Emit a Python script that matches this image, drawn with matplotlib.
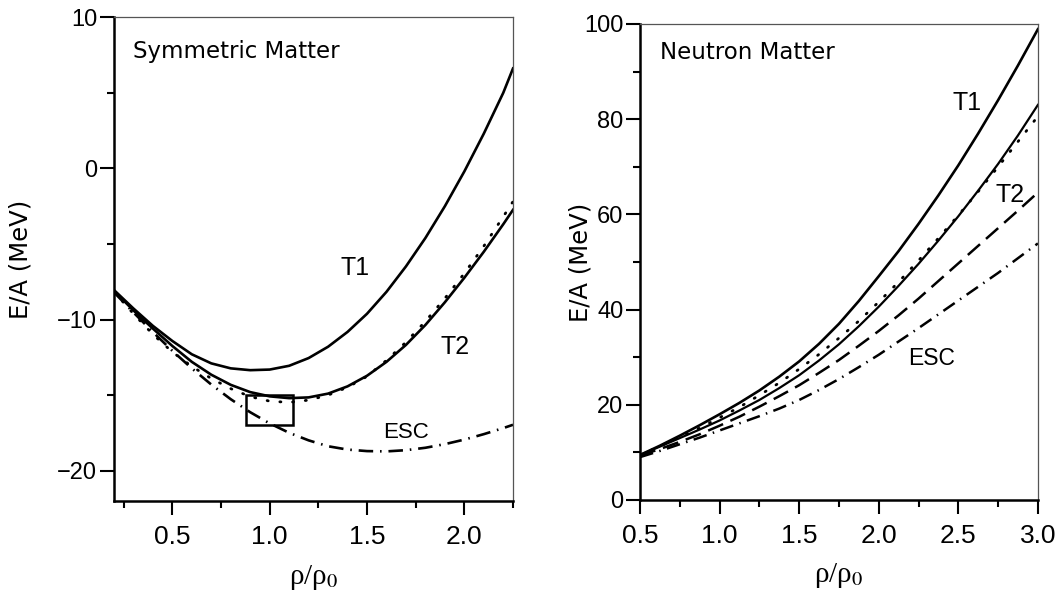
"""E/A versus density for symmetric and neutron matter (two panels)."""

import matplotlib
matplotlib.use("Agg")
import matplotlib.pyplot as plt
from matplotlib.patches import Rectangle
from matplotlib.ticker import MultipleLocator

plt.rcParams["font.family"] = ["Liberation Sans", "DejaVu Sans"]
plt.rcParams["mathtext.fontset"] = "stix"

# ---- symmetric matter (left panel) ----
rho_sym = [0.2, 0.3, 0.4, 0.5, 0.6, 0.7, 0.8, 0.9, 1.0, 1.1, 1.2, 1.3,
           1.4, 1.5, 1.6, 1.7, 1.8, 1.9, 2.0, 2.1, 2.2, 2.25]
sym_t1 = [-8.05, -9.27, -10.42, -11.42, -12.3, -12.9, -13.23, -13.35, -13.31,
          -13.06, -12.55, -11.8, -10.82, -9.62, -8.17, -6.49, -4.61, -2.51,
          -0.21, 2.29, 4.99, 6.6]
sym_t2 = [-8.1, -9.4, -10.6, -11.75, -12.8, -13.65, -14.32, -14.8, -15.08,
          -15.2, -15.15, -14.9, -14.42, -13.72, -12.8, -11.68, -10.36, -8.86,
          -7.24, -5.52, -3.7, -2.75]
sym_dot = [-8.15, -9.62, -10.98, -12.15, -13.1, -13.9, -14.57, -15.1, -15.4,
           -15.48, -15.33, -15.0, -14.48, -13.76, -12.7, -11.5, -10.12, -8.6,
           -6.95, -5.15, -3.2, -2.2]
sym_esc = [-8.2, -9.53, -10.83, -12.07, -13.23, -14.3, -15.27, -16.13, -16.87,
           -17.49, -17.99, -18.38, -18.6, -18.7, -18.72, -18.64, -18.48, -18.24,
           -17.94, -17.58, -17.18, -16.96]
# empirical saturation box: (rho_min, rho_max, E_min, E_max)
sat_box = (0.88, 1.12, -17.0, -15.0)

# ---- neutron matter (right panel) ----
rho_neu = [0.5, 0.625, 0.75, 0.875, 1.0, 1.125, 1.25, 1.375, 1.5, 1.625,
           1.75, 1.875, 2.0, 2.125, 2.25, 2.375, 2.5, 2.625, 2.75, 2.875, 3.0]
neu_t1 = [9.45, 11.4, 13.5, 15.7, 18.0, 20.4, 23.0, 25.9, 29.1, 32.8, 37.0,
          41.8, 47.0, 52.3, 58.0, 64.0, 70.3, 77.0, 84.0, 91.3, 98.9]
neu_t2 = [9.45, 11.2, 13.0, 14.8, 16.7, 18.8, 21.0, 23.5, 26.2, 29.3, 32.7,
          36.5, 40.6, 45.0, 49.6, 54.5, 59.6, 65.0, 70.6, 76.6, 83.0]
neu_dot = [9.4, 11.3, 13.2, 15.1, 17.3, 19.5, 22.0, 24.6, 27.5, 30.6, 34.0,
           37.6, 41.6, 45.8, 50.3, 55.0, 59.8, 64.8, 70.0, 75.3, 80.6]
neu_dash = [9.3, 10.7, 12.2, 13.8, 15.6, 17.5, 19.6, 21.8, 24.1, 26.7, 29.4,
            32.4, 35.5, 38.8, 42.3, 46.0, 49.7, 53.4, 57.1, 60.8, 64.6]
neu_esc = [9.0, 10.3, 11.7, 13.1, 14.6, 16.1, 17.6, 19.2, 21.0, 23.1, 25.4,
           27.9, 30.5, 33.3, 36.1, 39.0, 41.9, 44.8, 47.7, 50.8, 53.9]

DOTTED = (0, (0.4, 4.2))
DASHED = (0, (6.5, 3.2))
DASHDOT = (0, (5.5, 2.6, 0.6, 2.6))
TEXT_FONT = ["DejaVu Sans"]
RHO_FONT = ["Liberation Serif", "DejaVu Serif"]


def style_axes(ax, label_x):
    for side in ("left", "bottom"):
        ax.spines[side].set_linewidth(1.8)
    for side in ("top", "right"):
        ax.spines[side].set_linewidth(0.9)
        ax.spines[side].set_color("#555555")
    ax.tick_params(which="both", direction="out", top=False, right=False,
                   width=1.5)
    ax.tick_params(which="major", length=10)
    ax.tick_params(which="minor", length=5)
    ax.tick_params(axis="x", which="major", pad=7, labelsize=19)
    ax.tick_params(axis="y", which="major", pad=2, labelsize=17)
    ax.set_xlabel("ρ/ρ$_0$", fontsize=21, family=RHO_FONT, labelpad=10)
    ax.set_ylabel("E/A (MeV)", fontsize=17.5, family=TEXT_FONT)
    ax.yaxis.set_label_coords(label_x, 0.5)


fig = plt.figure(figsize=(10.63, 5.99), dpi=100)

# left panel
ax1 = fig.add_axes([0.1072, 0.1636, 0.3754, 0.808])
ax1.plot(rho_sym, sym_t1, color="black", lw=1.9)
ax1.plot(rho_sym, sym_t2, color="black", lw=1.9)
ax1.plot(rho_sym, sym_dot, color="black", lw=2.0, linestyle=DOTTED,
         dash_capstyle="round")
ax1.plot(rho_sym, sym_esc, color="black", lw=1.9, linestyle=DASHDOT)
x0, x1, y0, y1 = sat_box
ax1.add_patch(Rectangle((x0, y0), x1 - x0, y1 - y0, fill=False,
                        edgecolor="black", lw=1.8))
ax1.set_xlim(0.2, 2.25)
ax1.set_ylim(-22, 10)
ax1.xaxis.set_major_locator(MultipleLocator(0.5))
ax1.xaxis.set_minor_locator(MultipleLocator(0.25))
ax1.yaxis.set_major_locator(MultipleLocator(10))
ax1.yaxis.set_minor_locator(MultipleLocator(5))
style_axes(ax1, -0.205)
ax1.text(0.048, 0.928, "Symmetric Matter", transform=ax1.transAxes,
         fontsize=16.5, family=TEXT_FONT, va="center")
ax1.text(1.44, -6.6, "T1", fontsize=18, ha="center", va="center")
ax1.text(1.95, -11.85, "T2", fontsize=18, ha="center", va="center")
ax1.text(1.70, -17.5, "ESC", fontsize=16, ha="center", va="center")

# right panel
ax2 = fig.add_axes([0.602, 0.1653, 0.3744, 0.7947])
ax2.plot(rho_neu, neu_t1, color="black", lw=1.9)
ax2.plot(rho_neu, neu_t2, color="black", lw=1.6)
ax2.plot(rho_neu, neu_dot, color="black", lw=2.0, linestyle=DOTTED,
         dash_capstyle="round")
ax2.plot(rho_neu, neu_dash, color="black", lw=1.8, linestyle=DASHED)
ax2.plot(rho_neu, neu_esc, color="black", lw=1.8, linestyle=DASHDOT)
ax2.set_xlim(0.5, 3.0)
ax2.set_ylim(0, 100)
ax2.xaxis.set_major_locator(MultipleLocator(0.5))
ax2.xaxis.set_minor_locator(MultipleLocator(0.25))
ax2.yaxis.set_major_locator(MultipleLocator(20))
ax2.yaxis.set_minor_locator(MultipleLocator(10))
style_axes(ax2, -0.118)
ax2.text(0.05, 0.941, "Neutron Matter", transform=ax2.transAxes,
         fontsize=16.5, family=TEXT_FONT, va="center")
ax2.text(2.555, 83.4, "T1", fontsize=18, ha="center", va="center")
ax2.text(2.826, 64.1, "T2", fontsize=18, ha="center", va="center")
ax2.text(2.335, 29.8, "ESC", fontsize=16.5, ha="center", va="center")

fig.savefig("out.png", dpi=100)
plt.close(fig)
